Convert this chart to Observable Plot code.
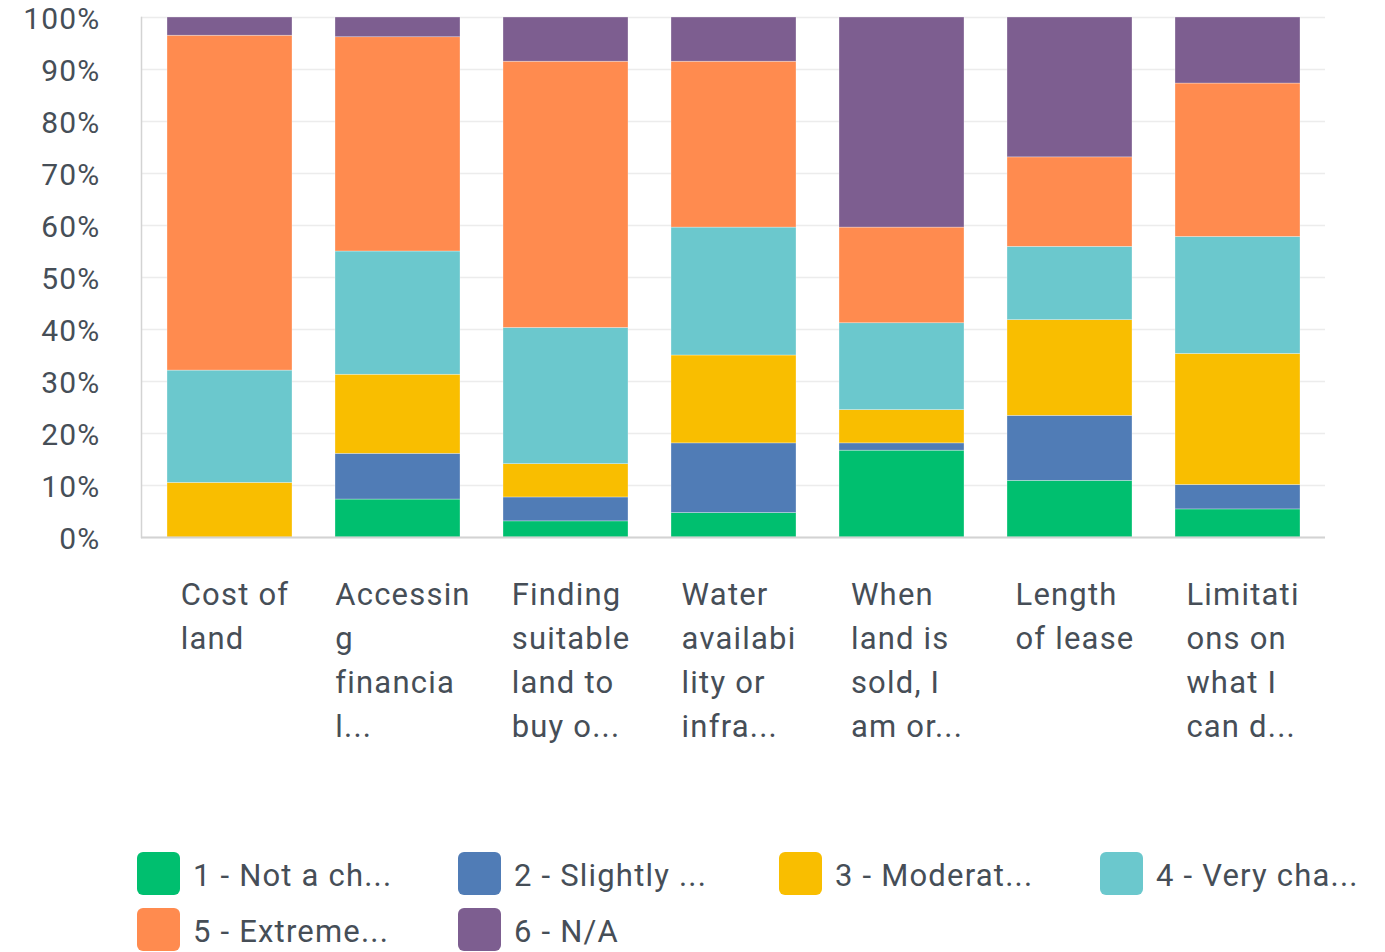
<!DOCTYPE html>
<html>
<head>
<meta charset="utf-8">
<script src="https://cdn.jsdelivr.net/npm/d3@7"></script>
<script src="https://cdn.jsdelivr.net/npm/@observablehq/plot@0.6"></script>
<style>
  html, body { margin: 0; padding: 0; background: #fff; }
  body { width: 1385px; height: 952px; overflow: hidden; font-family: Roboto, "Noto Sans", sans-serif; }
  #chart svg text { letter-spacing: 1.2px; }
  #legend {
    display: grid;
    grid-template-columns: repeat(4, 321px);
    row-gap: 13px;
    padding-left: 137px;
    margin-top: 52px;
  }
  .item { display: flex; align-items: center; height: 43px; }
  .sw { width: 43px; height: 43px; border-radius: 6px; margin-right: 13px; flex: none; }
  .lab { font-size: 31px; color: #464e57; white-space: nowrap; letter-spacing: 1.2px; padding-top: 4px; }
</style>
</head>
<body>
<div id="chart"></div>
<div id="legend"></div>
<script>
// Categories (as displayed, truncated/wrapped like the original)
const categories = ["Cost of land", "Accessing financial", "Finding suitable land", "Water availability", "When land is sold", "Length of lease", "Limitations"];
const tickLabels = [
  "Cost of\nland",
  "Accessin\ng\nfinancia\nl...",
  "Finding\nsuitable\nland to\nbuy o...",
  "Water\navailabi\nlity or\ninfra...",
  "When\nland is\nsold, I\nam or...",
  "Length\nof lease",
  "Limitati\nons on\nwhat I\ncan d..."
];

// Series (legend labels as shown)
const levels = ["1 - Not a ch...", "2 - Slightly ...", "3 - Moderat...", "4 - Very cha...", "5 - Extreme...", "6 - N/A"];
const colors = ["#00bf6f", "#507cb6", "#f9be00", "#6bc8cd", "#ff8b4f", "#7d5e90"];

// Percent values per level, one entry per category
const notAChallenge = [0, 7.3, 3.1, 4.7, 16.7, 10.9, 5.4];
const slightly      = [0, 8.8, 4.6, 13.4, 1.4, 12.5, 4.7];
const moderately    = [10.5, 15.2, 6.4, 16.9, 6.4, 18.4, 25.2];
const veryChall     = [21.6, 23.7, 26.2, 24.6, 16.7, 14.1, 22.5];
const extremely     = [64.4, 41.2, 51.2, 31.9, 18.4, 17.2, 29.5];
const notApplicable = [3.5, 3.8, 8.5, 8.5, 40.4, 26.9, 12.7];

const yTicks = [0, 10, 20, 30, 40, 50, 60, 70, 80, 90, 100];

const series = [notAChallenge, slightly, moderately, veryChall, extremely, notApplicable];
const rows = [];
categories.forEach((c, i) => {
  series.forEach((s, j) => rows.push({category: c, level: levels[j], value: s[i]}));
});

const textColor = "#464e57";
const fontFamily = "Roboto, 'Noto Sans', sans-serif";
const labelSize = 31;
const spacing = 1.2;

// Width of each wrapped label block, so the block is centred under its bar with left-aligned lines
const ctx = document.createElement("canvas").getContext("2d");
ctx.font = `${labelSize}px Roboto`;
const blockWidth = t => d3.max(t.split("\n"), line => ctx.measureText(line).width + spacing * line.length);

const labelMarks = categories.map((c, i) => Plot.text([{category: c, label: tickLabels[i]}], {
  x: "category", y: () => 0, text: "label",
  textAnchor: "start", lineAnchor: "top",
  dx: 5 - blockWidth(tickLabels[i]) / 2, dy: 36,
  fontSize: labelSize, lineHeight: 1.42, fill: textColor
}));

const chart = Plot.plot({
  width: 1385,
  height: 800,
  marginLeft: 141,
  marginRight: 60,
  marginTop: 17,
  marginBottom: 263,
  style: {fontFamily, background: "#fff", overflow: "visible"},
  x: {domain: categories, paddingInner: 0.257, paddingOuter: 0.148, axis: null},
  y: {domain: [0, 100], axis: null},
  color: {domain: levels, range: colors},
  marks: [
    Plot.ruleY(yTicks, {stroke: "#ececec", strokeWidth: 1.5}),
    Plot.barY(rows, {x: "category", y: "value", fill: "level", stroke: "#ffffff", strokeWidth: 0.6, strokeOpacity: 0.5}),
    Plot.ruleY([0], {stroke: "#d3d3d3", strokeWidth: 2}),
    Plot.frame({anchor: "left", stroke: "#d3d3d3", strokeWidth: 1.5}),
    Plot.axisY({ticks: yTicks, tickSize: 0, tickPadding: 41, tickFormat: d => d + "%", fontSize: 30, fill: textColor, dy: 2, label: null}),
    ...labelMarks
  ]
});
document.getElementById("chart").appendChild(chart);

const legend = document.getElementById("legend");
levels.forEach((l, i) => {
  const it = document.createElement("div");
  it.className = "item";
  const sw = document.createElement("div");
  sw.className = "sw";
  sw.style.background = colors[i];
  const lab = document.createElement("span");
  lab.className = "lab";
  lab.textContent = l;
  it.appendChild(sw);
  it.appendChild(lab);
  legend.appendChild(it);
});
</script>
</body>
</html>
